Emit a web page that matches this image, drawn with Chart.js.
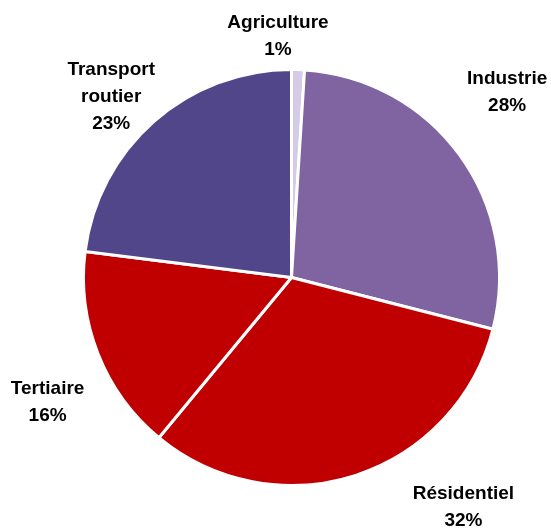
<!DOCTYPE html>
<html lang="fr">
<head>
    <meta charset="UTF-8">
    <title>Répartition par secteur</title>
    <style>
        body {
            margin: 0;
            padding: 0;
            background-color: #ffffff;
        }
        .chart-container {
            position: relative;
            width: 551px;
            height: 532px;
        }
    </style>
</head>
<body>

    <div class="chart-container">
        <canvas id="pieChart"></canvas>
    </div>

    <script src="https://cdn.jsdelivr.net/npm/chart.js"></script>
    <script>
        // données
        const secteurs = [['Agriculture'], ['Industrie'], ['Résidentiel'], ['Tertiaire'], ['Transport', 'routier']];
        const parts = [1, 28, 32, 16, 23];
        const couleurs = ['#D5CBE4', '#8064A2', '#C00000', '#C00000', '#514689'];

        // placement des étiquettes (angle depuis le haut, distance au centre)
        const etiquettes = [
            { angle: 356.8, dist: 242 },
            { angle: 49.4, dist: 284 },
            { angle: 143.2, dist: 287 },
            { angle: 242.9, dist: 274 },
            { angle: 315, dist: 255 }
        ];

        const labelPlugin = {
            id: 'labelPlugin',
            afterDatasetsDraw(chart) {
                const ctx = chart.ctx;
                const meta = chart.getDatasetMeta(0);
                ctx.save();
                ctx.font = 'bold 19px "Liberation Sans", Arial, sans-serif';
                ctx.fillStyle = '#000000';
                ctx.textAlign = 'center';
                ctx.textBaseline = 'middle';
                const lineH = 27;
                meta.data.forEach((arc, i) => {
                    const p = etiquettes[i];
                    const a = (p.angle - 90) * Math.PI / 180;
                    const cx = arc.x + Math.cos(a) * p.dist;
                    const cy = arc.y + Math.sin(a) * p.dist;
                    const lines = secteurs[i].concat([parts[i] + '%']);
                    const y0 = cy - (lines.length - 1) * lineH / 2;
                    lines.forEach((t, k) => ctx.fillText(t, cx, y0 + k * lineH));
                });
                ctx.restore();
            }
        };

        const pieCtx = document.getElementById('pieChart').getContext('2d');
        const pieChart = new Chart(pieCtx, {
            type: 'pie',
            data: {
                labels: secteurs.map(s => s.join(' ')),
                datasets: [{
                    data: parts,
                    backgroundColor: couleurs,
                    borderColor: '#ffffff',
                    borderWidth: 3
                }]
            },
            options: {
                responsive: true,
                maintainAspectRatio: false,
                animation: false,
                layout: {
                    padding: { top: 68, bottom: 45, left: 82, right: 50 }
                },
                plugins: {
                    legend: { display: false },
                    tooltip: { enabled: false }
                }
            },
            plugins: [labelPlugin]
        });
    </script>

</body>
</html>
